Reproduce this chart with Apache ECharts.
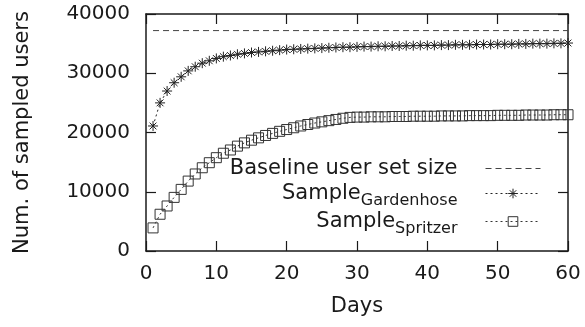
<!DOCTYPE html>
<html>
<head>
<meta charset="utf-8">
<script src="https://cdn.jsdelivr.net/npm/echarts@6/dist/echarts.min.js"></script>
<style>
  html, body { margin: 0; padding: 0; background: #fff; }
  #chart { width: 585px; height: 327px; }
</style>
</head>
<body>
<div id="chart"></div>
<script>
// days since start of sampling
const days = [1, 2, 3, 4, 5, 6, 7, 8, 9, 10, 11, 12, 13, 14, 15, 16, 17, 18, 19, 20,
  21, 22, 23, 24, 25, 26, 27, 28, 29, 30, 31, 32, 33, 34, 35, 36, 37, 38, 39, 40,
  41, 42, 43, 44, 45, 46, 47, 48, 49, 50, 51, 52, 53, 54, 55, 56, 57, 58, 59, 60];

const gardenhoseUsers = [21100, 25000, 27000, 28400, 29400, 30400, 31100, 31700, 32100, 32500,
  32800, 33000, 33200, 33350, 33500, 33600, 33700, 33800, 33900, 34000,
  34050, 34100, 34150, 34200, 34250, 34300, 34350, 34400, 34400, 34450,
  34500, 34500, 34550, 34550, 34600, 34600, 34650, 34650, 34700, 34700,
  34700, 34750, 34750, 34800, 34800, 34800, 34850, 34850, 34850, 34900,
  34900, 34900, 34950, 34950, 35000, 35000, 35000, 35050, 35050, 35100];

const spritzerUsers = [3900, 6200, 7600, 9050, 10400, 11800, 13000, 14050, 14900, 15750,
  16500, 17050, 17700, 18250, 18700, 19100, 19500, 19850, 20200, 20500,
  20800, 21100, 21350, 21600, 21800, 22000, 22200, 22400, 22550, 22600,
  22600, 22650, 22650, 22650, 22700, 22700, 22700, 22750, 22750, 22750,
  22750, 22800, 22800, 22800, 22800, 22850, 22850, 22850, 22850, 22900,
  22900, 22900, 22900, 22950, 22950, 22950, 22950, 23000, 23000, 23000];

// baseline user set size (flat reference line)
const baselineDays = [1, 60];
const baselineUsers = [37200, 37200];

const xTicks = [0, 10, 20, 30, 40, 50, 60];
const yTicks = [0, 10000, 20000, 30000, 40000];

const FONT = 'DejaVu Sans';
const INK = '#1a1a1a';

const pairs = (xs, ys) => xs.map((x, i) => [x, ys[i]]);

const starPath = 'path://M0,5L10,5M5,0L5,10M1.6,1.6L8.4,8.4M8.4,1.6L1.6,8.4';
const boxPath = 'path://M0,0L10,0L10,10L0,10Z';

const chart = echarts.init(document.getElementById('chart'), null, { renderer: 'canvas' });

const legendText = {
  fontFamily: FONT,
  fontSize: 21,
  color: INK,
  padding: [0, 23, 0, 0],
  rich: {
    base: { fontFamily: FONT, fontSize: 21, color: INK },
    sub: { fontFamily: FONT, fontSize: 16, color: INK, padding: [15, 0, 0, 0] }
  }
};
const legendFmt = (name) => {
  if (name === 'Gardenhose') return '{base|Sample}{sub|Gardenhose}';
  if (name === 'Spritzer') return '{base|Sample}{sub|Spritzer}';
  return name;
};
const mkLegend = (name, top, extra) => Object.assign({
  data: [name],
  right: 39,
  top: top,
  align: 'right',
  orient: 'vertical',
  itemWidth: 55,
  itemHeight: 12,
  selectedMode: false,
  formatter: legendFmt,
  textStyle: legendText,
  lineStyle: { width: 1 },
  itemStyle: { borderWidth: 1 }
}, extra || {});

const axisCommon = {
  type: 'value',
  axisLine: { show: true, onZero: false, lineStyle: { color: INK, width: 1.5 } },
  axisTick: { show: true, inside: true, length: 10, lineStyle: { color: INK, width: 1.2 } },
  splitLine: { show: false }
};

const option = {
  animation: false,
  backgroundColor: '#fff',
  grid: { left: 146, right: 17, top: 14, bottom: 76 },
  legend: [
    mkLegend('Baseline user set size', 153, { itemStyle: { opacity: 0 } }),
    mkLegend('Gardenhose', 178),
    mkLegend('Spritzer', 206)
  ],
  xAxis: [
    Object.assign({}, axisCommon, {
      position: 'bottom',
      min: xTicks[0], max: xTicks[xTicks.length - 1], interval: 10,
      name: 'Days',
      nameLocation: 'middle',
      nameGap: 45,
      nameTextStyle: { fontFamily: FONT, fontSize: 21, color: INK },
      axisLabel: { fontFamily: FONT, fontSize: 20, color: INK, margin: 13 }
    }),
    Object.assign({}, axisCommon, {
      position: 'top',
      min: xTicks[0], max: xTicks[xTicks.length - 1], interval: 10,
      axisLabel: { show: false }
    })
  ],
  yAxis: [
    Object.assign({}, axisCommon, {
      position: 'left',
      min: yTicks[0], max: yTicks[yTicks.length - 1], interval: 10000,
      name: 'Num. of sampled users',
      nameLocation: 'middle',
      nameGap: 113,
      nameTextStyle: { fontFamily: FONT, fontSize: 21, color: INK },
      axisLabel: { fontFamily: FONT, fontSize: 20, color: INK, margin: 16, formatter: (v) => String(v) }
    }),
    Object.assign({}, axisCommon, {
      position: 'right',
      min: yTicks[0], max: yTicks[yTicks.length - 1], interval: 10000,
      axisLabel: { show: false }
    })
  ],
  series: [
    {
      name: 'Baseline user set size',
      type: 'line',
      data: pairs(baselineDays, baselineUsers),
      symbol: 'none',
      itemStyle: { color: '#444' },
      lineStyle: { color: '#444', width: 1, type: [6, 4] },
      z: 2
    },
    {
      name: 'Gardenhose',
      type: 'line',
      data: pairs(days, gardenhoseUsers),
      symbol: starPath,
      symbolSize: 10,
      symbolKeepAspect: true,
      itemStyle: { color: '#222', borderColor: '#222', borderWidth: 1 },
      lineStyle: { color: '#222', width: 1, type: [2, 3] },
      z: 3
    },
    {
      name: 'Spritzer',
      type: 'line',
      data: pairs(days, spritzerUsers),
      symbol: boxPath,
      symbolSize: 10,
      symbolKeepAspect: true,
      itemStyle: { color: 'rgba(0,0,0,0)', borderColor: '#333', borderWidth: 1 },
      lineStyle: { color: '#333', width: 1, type: [2, 3] },
      z: 3
    }
  ]
};

chart.setOption(option);
</script>
</body>
</html>
